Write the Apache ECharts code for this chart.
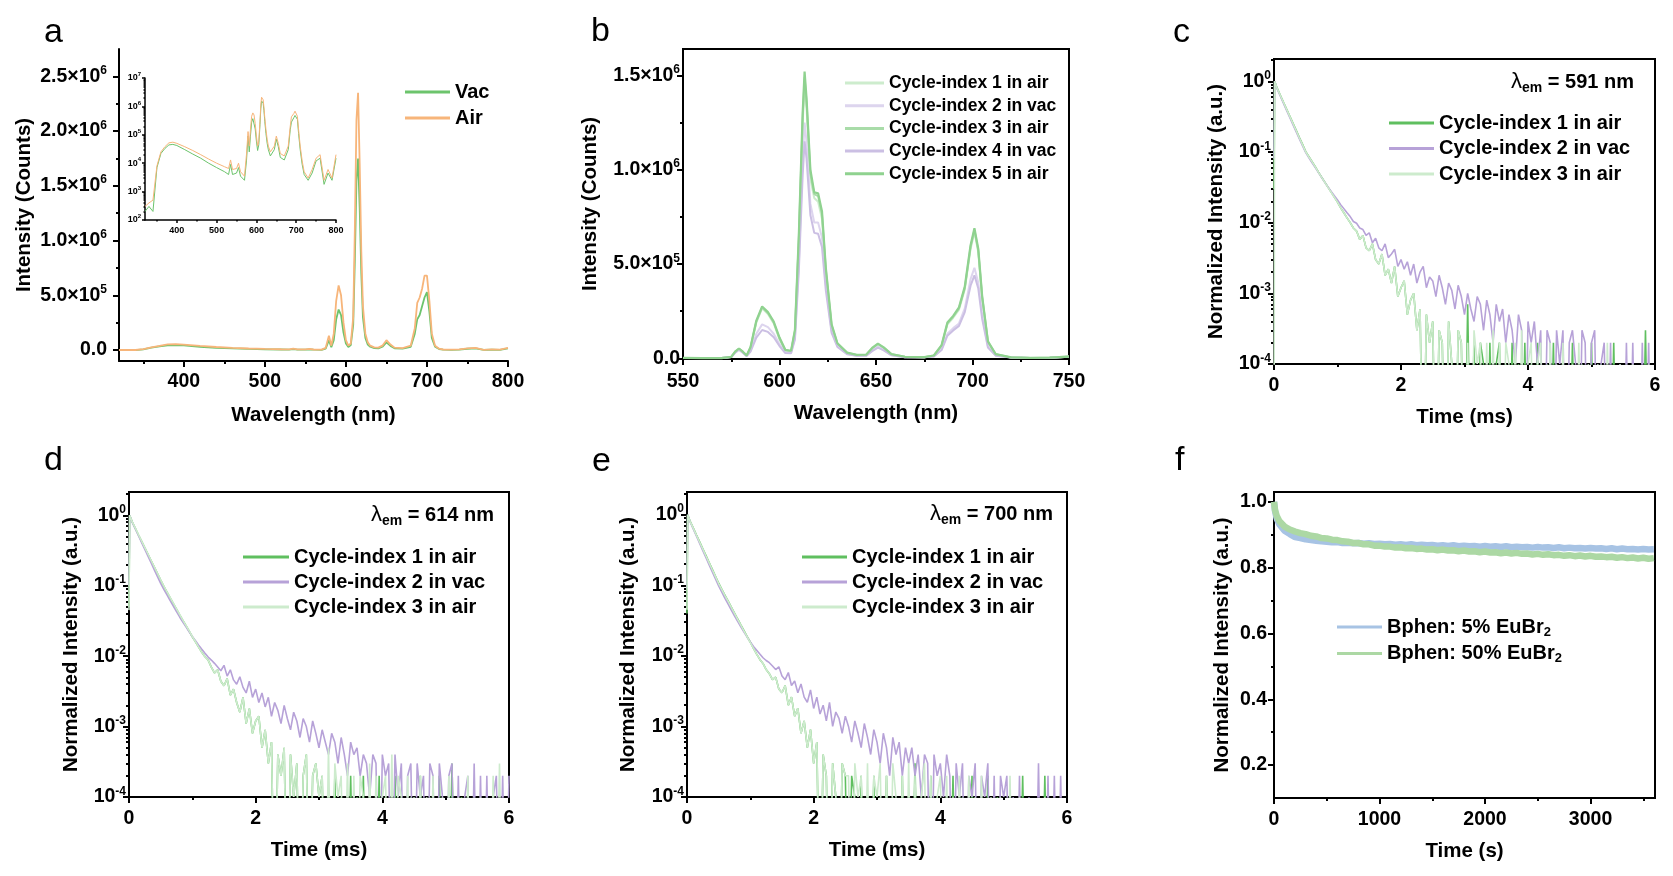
<!DOCTYPE html>
<html>
<head>
<meta charset="utf-8">
<script src="https://cdn.jsdelivr.net/npm/echarts@6/dist/echarts.min.js"></script>
<style>
  html, body { margin: 0; padding: 0; background: #fff; }
  #main { width: 1673px; height: 876px; }
</style>
</head>
<body>
<div id="main"></div>
<script>
const FONT = 'Liberation Sans';

// ---------- panel a: PL spectra, vacuum vs air (counts)
const waveA = [320, 330, 340, 350, 360, 370, 380, 390, 400, 420, 440, 460, 480, 500, 520, 530, 535, 540, 550, 555,
  560, 570, 575, 579, 582, 585, 588, 591, 594, 597, 600, 603, 606, 609, 611, 613, 615, 617, 619, 621,
  624, 627, 630, 635, 640, 645, 650, 655, 660, 670, 680, 685, 688, 691, 694, 697, 700, 703, 706, 710,
  715, 720, 730, 740, 750, 760, 770, 780, 790, 800];
const vacA = [200, 300, 200, 7000, 22000, 33000, 44000, 46000, 42000, 30000, 21000, 15000, 10000, 7000, 5000, 4000, 9000, 4000, 4500, 7000,
  3500, 2500, 12000, 90000, 25000, 90000, 280000, 370000, 320000, 160000, 60000, 28000, 45000, 230000, 820000, 1550000, 1750000, 1300000, 700000, 300000,
  110000, 50000, 30000, 18000, 16000, 30000, 70000, 38000, 16000, 13000, 30000, 150000, 280000, 320000, 400000, 480000, 530000, 350000, 110000, 30000,
  9000, 4000, 2500, 4500, 12000, 15000, 1800, 4500, 2500, 15000];
const airA = [300, 400, 500, 8000, 25000, 38000, 52000, 55000, 50000, 38000, 28000, 20000, 14000, 10000, 7500, 6500, 13000, 6000, 6500, 10000,
  5000, 3500, 20000, 130000, 40000, 150000, 450000, 590000, 500000, 250000, 90000, 40000, 60000, 300000, 1100000, 2100000, 2350000, 1700000, 900000, 400000,
  150000, 70000, 40000, 25000, 22000, 40000, 90000, 50000, 22000, 18000, 40000, 200000, 430000, 480000, 560000, 680000, 680000, 450000, 150000, 40000,
  12000, 5000, 3000, 6000, 15000, 20000, 2500, 6000, 3000, 20000];

// ---------- panel b: five cycles (counts)
const waveB = [550, 560, 570, 575, 577, 579, 581, 583, 585, 588, 591, 594, 597, 600, 603, 606, 608, 610, 612, 613,
  614, 616, 618, 620, 622, 624, 627, 630, 635, 640, 645, 648, 651, 654, 658, 665, 675, 680, 684, 687,
  690, 693, 696, 699, 701, 703, 705, 708, 712, 720, 730, 740, 750];
const cycB1 = [1500, 1000, 1000, 7000, 32000, 50000, 33000, 14000, 55000, 190000, 265000, 235000, 185000, 100000, 42000, 37000, 140000, 610000, 1240000, 1460000,
  1330000, 950000, 850000, 830000, 740000, 455000, 170000, 76000, 28000, 16000, 18000, 51000, 74000, 54000, 20000, 7000, 5000, 14000, 65000, 180000,
  215000, 258000, 365000, 580000, 670000, 560000, 320000, 86000, 20000, 4000, 2000, 3000, 8000];
const cycB2 = [1500, 1000, 1000, 7000, 30000, 46000, 30000, 12000, 40000, 130000, 180000, 165000, 130000, 75000, 32000, 30000, 110000, 500000, 1050000, 1250000,
  1150000, 820000, 720000, 720000, 640000, 390000, 145000, 65000, 24000, 14000, 15000, 42000, 62000, 46000, 17000, 6000, 5000, 11000, 48000, 130000,
  160000, 185000, 265000, 420000, 480000, 400000, 230000, 62000, 15000, 4000, 2000, 3000, 8000];
const cycB3 = [2000, 1000, 1000, 8000, 34000, 51000, 34000, 15000, 58000, 195000, 270000, 240000, 190000, 105000, 43000, 38000, 145000, 630000, 1270000, 1490000,
  1360000, 980000, 870000, 860000, 765000, 470000, 175000, 78000, 29000, 17000, 19000, 53000, 76000, 56000, 21000, 8000, 6000, 15000, 68000, 185000,
  220000, 265000, 372000, 590000, 680000, 570000, 325000, 88000, 21000, 5000, 2000, 4000, 9000];
const cycB4 = [1500, 1000, 1000, 7000, 29000, 45000, 29000, 11000, 36000, 110000, 150000, 140000, 112000, 65000, 28000, 27000, 100000, 460000, 970000, 1150000,
  1060000, 760000, 665000, 660000, 590000, 360000, 135000, 60000, 22000, 13000, 14000, 38000, 57000, 42000, 16000, 6000, 5000, 10000, 44000, 120000,
  148000, 172000, 245000, 385000, 440000, 370000, 210000, 57000, 14000, 4000, 2000, 3000, 8000];
const cycB5 = [2000, 1000, 1000, 8000, 35000, 52000, 35000, 15000, 60000, 200000, 275000, 245000, 195000, 110000, 45000, 40000, 150000, 650000, 1300000, 1520000,
  1380000, 1000000, 880000, 875000, 780000, 480000, 180000, 80000, 30000, 18000, 20000, 55000, 78000, 58000, 22000, 8000, 6000, 15000, 70000, 190000,
  225000, 270000, 380000, 600000, 690000, 580000, 330000, 90000, 22000, 5000, 2000, 4000, 9000];

// ---------- panels c, d, e: decay curves, photon counts (10000 = peak)
// entry 0 = before the rise (t=0), entry 1 = peak, then every 0.05 ms up to 6 ms
const decayT = [0, 0.01];
for (let k = 1; k <= 120; k++) decayT.push(Math.round(k * 5) / 100);

const c591 = [
  [300, 10000,
   8000, 6350, 5050, 4020, 3200, 2540, 2020, 1600, 1280, 1010,
   860, 730, 620, 520, 440, 375, 318, 270, 230, 196,
   162, 138, 117, 100, 84, 76, 58, 66, 44, 40,
   50, 30, 26, 36, 18, 22, 14, 24, 9, 12,
   15, 5, 8, 10, 3, 6, 0, 5, 2, 4,
   0, 3, 2, 0, 4, 1, 0, 3, 2, 0,
   7, 0, 2, 0, 2, 1, 0, 2, 0, 1,
   2, 0, 1, 0, 2, 0, 1, 0, 2, 0,
   1, 0, 2, 0, 0, 1, 0, 2, 0, 0,
   1, 0, 0, 2, 0, 0, 1, 0, 0, 2,
   0, 0, 1, 0, 0, 0, 2, 0, 0, 0,
   1, 0, 0, 0, 0, 0, 3, 0, 0, 0],
  [800, 10000,
   7800, 6150, 4850, 3850, 3050, 2420, 1930, 1530, 1220, 980,
   830, 705, 600, 510, 435, 372, 320, 276, 240, 210,
   180, 158, 138, 122, 104, 98, 84, 80, 66, 72,
   52, 60, 44, 40, 50, 32, 36, 42, 24, 30,
   22, 28, 18, 26, 14, 20, 24, 12, 17, 15,
   9, 18, 12, 7, 14, 11, 6, 13, 9, 5,
   10, 6, 4, 9, 7, 3, 8, 5, 2, 7,
   4, 6, 2, 5, 3, 1, 5, 3, 0, 4,
   2, 4, 1, 3, 0, 3, 2, 0, 3, 1,
   3, 0, 2, 3, 1, 0, 3, 2, 0, 2,
   3, 0, 1, 2, 0, 2, 0, 0, 1, 0,
   2, 0, 2, 0, 0, 2, 0, 2, 0, 0],
  [0, 10000,
   7940, 6310, 5010, 3980, 3160, 2510, 2000, 1580, 1260, 1000,
   850, 724, 616, 515, 437, 372, 316, 269, 229, 195,
   162, 138, 117, 100, 84, 76, 58, 66, 44, 40,
   50, 30, 26, 36, 18, 22, 14, 24, 9, 12,
   15, 5, 8, 10, 3, 6, 0, 5, 2, 4,
   0, 3, 2, 0, 4, 1, 0, 3, 2, 0,
   2, 0, 3, 1, 2, 0, 2, 0, 3, 0,
   2, 0, 2, 1, 0, 2, 0, 3, 0, 1,
   2, 0, 1, 2, 0, 0, 2, 0, 1, 0,
   2, 0, 0, 1, 0, 2, 0, 0, 1, 0,
   0, 1, 0, 0, 2, 0, 0, 0, 1, 0,
   0, 0, 1, 0, 0, 0, 0, 1, 0, 0]
];
const d614 = [
  [500, 10000,
   8050, 6500, 5250, 4250, 3440, 2790, 2260, 1830, 1480, 1200,
   980, 810, 670, 558, 465, 386, 322, 270, 226, 188,
   160, 134, 113, 98, 88, 70, 58, 64, 44, 38,
   48, 28, 34, 22, 16, 26, 11, 18, 8, 12,
   14, 5, 9, 3, 6, 0, 4, 2, 5, 0,
   4, 1, 3, 0, 2, 4, 0, 2, 3, 1,
   2, 0, 1, 0, 2, 0, 1, 0, 0, 2,
   0, 1, 0, 2, 0, 1, 0, 0, 2, 0,
   1, 0, 0, 2, 0, 1, 0, 0, 1, 0,
   0, 2, 0, 0, 1, 0, 0, 2, 0, 0,
   0, 3, 0, 0, 1, 0, 0, 0, 1, 0,
   0, 0, 1, 0, 0, 0, 0, 0, 0, 0],
  [1000, 10000,
   8000, 6400, 5120, 4100, 3280, 2620, 2100, 1680, 1340, 1080,
   890, 740, 615, 515, 430, 360, 305, 260, 222, 190,
   165, 143, 125, 110, 97, 88, 79, 70, 62, 74,
   52, 64, 46, 40, 51, 36, 30, 44, 26, 34,
   22, 30, 19, 26, 14, 22, 17, 11, 20, 13,
   9, 16, 12, 7, 13, 10, 6, 12, 8, 5,
   9, 6, 4, 8, 6, 3, 7, 4, 2, 6,
   4, 5, 2, 4, 3, 1, 4, 3, 0, 4,
   2, 3, 0, 4, 1, 3, 0, 2, 3, 0,
   3, 1, 2, 0, 3, 2, 0, 3, 1, 0,
   2, 3, 0, 2, 0, 1, 2, 0, 3, 0,
   2, 0, 2, 0, 1, 2, 0, 2, 0, 2],
  [450, 10000,
   8100, 6550, 5300, 4300, 3480, 2820, 2280, 1850, 1500, 1210,
   990, 820, 680, 565, 470, 390, 325, 272, 228, 190,
   160, 134, 113, 98, 88, 70, 58, 64, 44, 38,
   48, 28, 34, 22, 16, 26, 11, 18, 8, 12,
   14, 5, 9, 3, 6, 0, 4, 2, 5, 0,
   4, 1, 3, 0, 2, 4, 0, 2, 3, 1,
   2, 0, 5, 0, 3, 1, 2, 0, 3, 0,
   2, 0, 2, 1, 0, 3, 0, 2, 0, 1,
   2, 0, 4, 0, 2, 1, 0, 2, 0, 1,
   0, 2, 0, 1, 0, 2, 0, 0, 1, 0,
   2, 0, 0, 1, 0, 0, 2, 0, 0, 0,
   1, 0, 0, 0, 2, 0, 3, 0, 0, 0]
];
const e700 = [
  [400, 10000,
   8050, 6450, 5150, 4120, 3300, 2630, 2100, 1680, 1340, 1070,
   875, 720, 595, 490, 404, 333, 275, 228, 188, 156,
   128, 106, 89, 78, 64, 56, 46, 50, 34, 30,
   38, 20, 26, 14, 18, 8, 12, 5, 9, 3,
   6, 0, 4, 2, 0, 3, 1, 0, 3, 2,
   0, 2, 1, 0, 2, 0, 1, 0, 2, 0,
   1, 0, 2, 0, 1, 0, 0, 2, 0, 1,
   0, 3, 0, 1, 0, 0, 2, 0, 1, 0,
   0, 1, 0, 2, 0, 0, 1, 0, 0, 2,
   0, 0, 1, 0, 2, 0, 0, 1, 0, 0,
   0, 1, 0, 0, 0, 2, 0, 0, 0, 0,
   0, 0, 2, 0, 0, 0, 0, 0, 0, 0],
  [900, 10000,
   7900, 6250, 4950, 3920, 3100, 2460, 1950, 1550, 1230, 980,
   800, 655, 540, 445, 370, 308, 258, 217, 184, 158,
   136, 120, 106, 94, 86, 80, 72, 64, 70, 52,
   46, 58, 38, 44, 30, 40, 26, 22, 33, 18,
   26, 15, 20, 12, 22, 10, 16, 13, 8, 14,
   10, 6, 12, 8, 5, 11, 7, 4, 9, 6,
   3, 8, 5, 2, 7, 4, 6, 2, 5, 3,
   5, 2, 4, 1, 4, 3, 0, 4, 2, 3,
   1, 4, 2, 0, 3, 1, 3, 0, 2, 1,
   3, 0, 2, 1, 3, 0, 2, 0, 2, 1,
   2, 0, 1, 0, 2, 0, 0, 1, 0, 0,
   3, 0, 0, 2, 0, 2, 0, 2, 0, 0],
  [450, 10000,
   8000, 6400, 5100, 4080, 3260, 2600, 2080, 1660, 1330, 1060,
   870, 715, 590, 485, 400, 330, 272, 225, 186, 154,
   128, 106, 89, 78, 64, 56, 46, 50, 34, 30,
   38, 20, 26, 14, 18, 8, 12, 5, 9, 3,
   6, 0, 4, 2, 0, 3, 1, 0, 3, 2,
   2, 0, 3, 1, 2, 0, 3, 0, 2, 1,
   3, 0, 2, 0, 3, 1, 0, 2, 0, 3,
   0, 2, 0, 1, 3, 0, 2, 0, 1, 2,
   0, 2, 0, 1, 0, 2, 0, 0, 2, 0,
   1, 0, 2, 0, 0, 1, 0, 0, 1, 0,
   0, 2, 0, 0, 1, 0, 0, 0, 0, 0,
   0, 0, 1, 0, 0, 0, 0, 0, 0, 0]
];
const cycleNames = ['Cycle-index 1 in air', 'Cycle-index 2 in vac', 'Cycle-index 3 in air'];

// ---------- panel f: stability over one hour
const timeF = [0, 10, 25];
for (let s = 50; s <= 3600; s += 50) timeF.push(s);
const eu5 = [1.000, 0.972, 0.950,
  0.932, 0.912, 0.902, 0.893, 0.890, 0.886, 0.884, 0.882, 0.880, 0.879,
  0.877, 0.878, 0.875, 0.876, 0.874, 0.875, 0.873, 0.874, 0.872, 0.873,
  0.871, 0.872, 0.870, 0.871, 0.869, 0.871, 0.868, 0.870, 0.868, 0.869,
  0.867, 0.868, 0.866, 0.868, 0.865, 0.867, 0.865, 0.866, 0.864, 0.866,
  0.864, 0.865, 0.863, 0.865, 0.862, 0.864, 0.862, 0.863, 0.861, 0.863,
  0.861, 0.862, 0.860, 0.862, 0.859, 0.861, 0.859, 0.860, 0.858, 0.860,
  0.858, 0.859, 0.857, 0.859, 0.856, 0.858, 0.856, 0.857, 0.855, 0.857, 0.855, 0.856];
const eu50 = [1.000, 0.975, 0.958,
  0.942, 0.925, 0.916, 0.910, 0.905, 0.902, 0.897, 0.895, 0.890, 0.889,
  0.885, 0.884, 0.880, 0.879, 0.875, 0.875, 0.871, 0.871, 0.867, 0.867,
  0.864, 0.864, 0.861, 0.862, 0.859, 0.860, 0.857, 0.858, 0.855, 0.856,
  0.853, 0.855, 0.852, 0.853, 0.850, 0.852, 0.849, 0.850, 0.847, 0.849,
  0.846, 0.847, 0.844, 0.846, 0.843, 0.845, 0.842, 0.843, 0.840, 0.842,
  0.839, 0.841, 0.838, 0.839, 0.836, 0.838, 0.835, 0.837, 0.834, 0.836,
  0.833, 0.834, 0.832, 0.833, 0.830, 0.832, 0.829, 0.831, 0.828, 0.830, 0.827, 0.829];

// ---------- tick values
const waveTicksA = [400, 500, 600, 700, 800], waveMinorA = [350, 450, 550, 650, 750];
const countTicksA = [0, 5e5, 1e6, 1.5e6, 2e6, 2.5e6], countMinorA = [2.5e5, 7.5e5, 1.25e6, 1.75e6, 2.25e6];
const insetLogTicks = [1e2, 1e3, 1e4, 1e5, 1e6, 1e7];
const waveTicksB = [550, 600, 650, 700, 750], waveMinorB = [575, 625, 675, 725];
const countTicksB = [0, 5e5, 1e6, 1.5e6], countMinorB = [2.5e5, 7.5e5, 1.25e6];
const timeTicks = [0, 2, 4, 6], timeMinor = [1, 3, 5];
const decayLogTicks = [1e-4, 1e-3, 1e-2, 1e-1, 1];
const secTicks = [0, 1000, 2000, 3000], secMinor = [500, 1500, 2500, 3500];
const normTicks = [0.2, 0.4, 0.6, 0.8, 1.0], normMinor = [0.3, 0.5, 0.7, 0.9];

function logMinors(lo, hi) {
  const out = [];
  for (let e = lo; e < hi; e++) for (let m = 2; m <= 9; m++) out.push(+(m * Math.pow(10, e)).toPrecision(3));
  return out;
}

// ---------- formatting helpers
function rich(size) {
  const ss = Math.round(size * 0.62);
  return {
    n: { fontFamily: FONT, fontWeight: 'bold', fontSize: size, lineHeight: size + 4, verticalAlign: 'middle', color: '#000' },
    s: { fontFamily: FONT, fontWeight: 'bold', fontSize: ss, lineHeight: ss, verticalAlign: 'top', color: '#000' }
  };
}
const sciFmt = v => {
  if (v === 0) return '{n|0.0}';
  const e = Math.floor(Math.log10(v) + 1e-9);
  return '{n|' + (v / Math.pow(10, e)).toFixed(1) + '×10}{s|' + e + '}';
};
const logFmt = v => '{n|10}{s|' + Math.round(Math.log10(v)) + '}';
const plainFmt = v => '{n|' + v + '}';
const oneDec = v => '{n|' + v.toFixed(1) + '}';

const xAxes = [], yAxes = [];
function axes(list, o) {
  const isX = list === xAxes;
  const lw = o.lineW || 2;
  const size = o.size || 19.5;
  const base = {
    type: o.type || 'value', gridIndex: o.grid, min: o.min, max: o.max,
    position: isX ? 'bottom' : 'left', offset: 0
  };
  if (o.type === 'log') base.logBase = 10;
  const main = Object.assign({}, base, {
    name: o.name || '', nameLocation: 'middle', nameGap: o.nameGap || 0, nameRotate: isX ? 0 : 90,
    nameTextStyle: { fontFamily: FONT, fontWeight: 'bold', fontSize: 20.5, color: '#000' },
    axisLine: { show: true, onZero: false, lineStyle: { color: '#000', width: lw } },
    axisTick: { show: true, inside: false, length: o.tickLen || 6, customValues: o.ticks, lineStyle: { color: '#000', width: lw } },
    axisLabel: { show: true, customValues: o.ticks, margin: o.margin, formatter: o.fmt, rich: rich(size),
      fontFamily: FONT, fontWeight: 'bold', fontSize: size, color: '#000' },
    splitLine: { show: false }
  });
  const minor = Object.assign({}, base, {
    axisLine: { show: false, onZero: false },
    axisTick: { show: true, inside: false, length: (o.tickLen || 6) / 2, customValues: o.minor, lineStyle: { color: '#000', width: lw } },
    axisLabel: { show: false }, splitLine: { show: false }
  });
  const idx = list.length;
  list.push(main, minor);
  return idx;
}

function line(name, xi, yi, data, color, width) {
  return { type: 'line', name, xAxisIndex: xi, yAxisIndex: yi, data, symbol: 'none', showSymbol: false,
    lineStyle: { color, width }, itemStyle: { color }, clip: true, silent: true, animation: false };
}
const zip = (xs, ys) => xs.map((x, i) => [x, ys[i]]);
const decayData = counts => decayT.map((t, i) => [t, counts[i] > 0 ? counts[i] / 10000 : 1e-6]); // zero counts sit below the 1e-4 floor

// ---------- grids
const boxed = { show: true, borderColor: '#000', borderWidth: 2, backgroundColor: 'transparent', outerBoundsMode: 'none' };
const grids = [
  { left: 119, top: 49, width: 389, height: 312, show: false, outerBoundsMode: 'none' },  // a
  { left: 145, top: 78, width: 191, height: 142, show: false, outerBoundsMode: 'none' },  // a inset
  Object.assign({ left: 683, top: 49, width: 386, height: 310 }, boxed),                 // b
  Object.assign({ left: 1274, top: 59, width: 381, height: 305 }, boxed),                // c
  Object.assign({ left: 129, top: 492, width: 380, height: 305 }, boxed),                // d
  Object.assign({ left: 687, top: 492, width: 380, height: 305 }, boxed),                // e
  Object.assign({ left: 1274, top: 492, width: 381, height: 306 }, boxed)                // f
];

// ---------- axes
const axA = axes(xAxes, { grid: 0, min: 320, max: 800, ticks: waveTicksA, minor: waveMinorA, fmt: plainFmt, margin: 9, name: 'Wavelength (nm)', nameGap: 44 });
const ayA = axes(yAxes, { grid: 0, min: -1e5, max: 2.75e6, ticks: countTicksA, minor: countMinorA, fmt: sciFmt, margin: 12, name: 'Intensity (Counts)', nameGap: 84 });
const axI = axes(xAxes, { grid: 1, min: 320, max: 800, ticks: waveTicksA, minor: waveMinorA, fmt: plainFmt, margin: 4, size: 9, tickLen: 3, lineW: 1.5 });
const ayI = axes(yAxes, { grid: 1, type: 'log', min: 1e2, max: 1e7, ticks: insetLogTicks, minor: logMinors(2, 7), fmt: logFmt, margin: 4, size: 9, tickLen: 3, lineW: 1.5 });
const axB = axes(xAxes, { grid: 2, min: 550, max: 750, ticks: waveTicksB, minor: waveMinorB, fmt: plainFmt, margin: 11, name: 'Wavelength (nm)', nameGap: 44 });
const ayB = axes(yAxes, { grid: 2, min: -3700, max: 1.64e6, ticks: countTicksB, minor: countMinorB, fmt: sciFmt, margin: 3, name: 'Intensity (Counts)', nameGap: 82 });
const decayPanels = [
  { grid: 3, max: 2.07, gap: 47, data: c591, key: 'c' },
  { grid: 4, max: 2.14, gap: 47, data: d614, key: 'd' },
  { grid: 5, max: 2.1, gap: 48, data: e700, key: 'e' }
];
decayPanels.forEach(p => {
  p.x = axes(xAxes, { grid: p.grid, min: 0, max: 6, ticks: timeTicks, minor: timeMinor, fmt: plainFmt, margin: 10, name: 'Time (ms)', nameGap: 43 });
  p.y = axes(yAxes, { grid: p.grid, type: 'log', min: 1e-4, max: p.max, ticks: decayLogTicks, minor: logMinors(-4, 0).concat([2]), fmt: logFmt, margin: 3, name: 'Normalized Intensity (a.u.)', nameGap: p.gap });
});
const axF = axes(xAxes, { grid: 6, min: 0, max: 3611, ticks: secTicks, minor: secMinor, fmt: plainFmt, margin: 10, name: 'Time (s)', nameGap: 43 });
const ayF = axes(yAxes, { grid: 6, min: 0.1, max: 1.03, ticks: normTicks, minor: normMinor, fmt: oneDec, margin: 7, name: 'Normalized Intensity (a.u.)', nameGap: 41 });

// ---------- series
const series = [
  line('a::Vac', axA, ayA, zip(waveA, vacA), '#6cc46c', 1.8),
  line('a::Air', axA, ayA, zip(waveA, airA), '#f7b57a', 1.8),
  line('ai::Vac', axI, ayI, zip(waveA, vacA), '#6cc46c', 1),
  line('ai::Air', axI, ayI, zip(waveA, airA), '#f7b57a', 1),
  line('b::Cycle-index 1 in air', axB, ayB, zip(waveB, cycB1), '#cdeccd', 2),
  line('b::Cycle-index 2 in vac', axB, ayB, zip(waveB, cycB2), '#ddd5ee', 2),
  line('b::Cycle-index 3 in air', axB, ayB, zip(waveB, cycB3), '#a9dca9', 2),
  line('b::Cycle-index 4 in vac', axB, ayB, zip(waveB, cycB4), '#cbbfe3', 2),
  line('b::Cycle-index 5 in air', axB, ayB, zip(waveB, cycB5), '#8fd28f', 2.2)
];
const decayColors = ['#5fbf5f', '#b7a2d8', '#cdebcd'];
decayPanels.forEach(p => {
  p.data.forEach((counts, i) => {
    series.push(line(p.key + '::' + cycleNames[i], p.x, p.y, decayData(counts), decayColors[i], 1.6));
  });
});
series.push(line('f::Bphen: 5% EuBr2', axF, ayF, zip(timeF, eu5), '#a7c3e4', 6.5));
series.push(line('f::Bphen: 50% EuBr2', axF, ayF, zip(timeF, eu50), '#acd8a4', 6.5));

// ---------- legends (a flat bar as the key, like the original)
function legend(names, left, top, size, gap, iw, extra) {
  return Object.assign({
    data: names, orient: 'vertical', left, top, padding: 0, itemGap: gap, itemWidth: iw, itemHeight: 3,
    icon: 'rect', selectedMode: false,
    textStyle: { fontFamily: FONT, fontWeight: 'bold', fontSize: size, color: '#000' },
    formatter: n => n.split('::')[1]
  }, extra || {});
}
const legends = [
  legend(['a::Vac', 'a::Air'], 405, 82, 20, 6, 45),
  legend(['b::Cycle-index 1 in air', 'b::Cycle-index 2 in vac', 'b::Cycle-index 3 in air', 'b::Cycle-index 4 in vac', 'b::Cycle-index 5 in air'], 845, 74, 17.5, 4.7, 39),
  legend(cycleNames.map(n => 'c::' + n), 1389, 113, 20, 5.5, 45),
  legend(cycleNames.map(n => 'd::' + n), 243, 547, 20, 5, 46),
  legend(cycleNames.map(n => 'e::' + n), 802, 547, 20, 5, 45),
  legend(['f::Bphen: 5% EuBr2', 'f::Bphen: 50% EuBr2'], 1337, 617, 20, 5, 45, {
    formatter: n => '{t|' + n.split('::')[1].replace(/2$/, '') + '}{s|2}',
    textStyle: { fontFamily: FONT, fontWeight: 'bold', fontSize: 20, color: '#000',
      rich: { t: { fontFamily: FONT, fontWeight: 'bold', fontSize: 20, lineHeight: 23, verticalAlign: 'middle' },
              s: { fontFamily: FONT, fontWeight: 'bold', fontSize: 13, lineHeight: 13, verticalAlign: 'bottom' } } }
  })
];

// ---------- panel letters and emission-wavelength notes
const letters = [['a', 44, 33], ['b', 591, 32], ['c', 1173, 33], ['d', 44, 461], ['e', 592, 462], ['f', 1175, 461]];
const lamRich = {
  l: { fontFamily: FONT, fontSize: 22, lineHeight: 26, verticalAlign: 'middle', color: '#000' },
  e: { fontFamily: FONT, fontWeight: 'bold', fontSize: 14, lineHeight: 14, verticalAlign: 'bottom', color: '#000' },
  t: { fontFamily: FONT, fontWeight: 'bold', fontSize: 20, lineHeight: 26, verticalAlign: 'middle', color: '#000' }
};
const lamNotes = [['591', 1511, 82], ['614', 371, 515], ['700', 930, 514]];
const graphic = letters.map(([t, x, y]) => ({
  type: 'text', style: { x, y, text: t, font: '34px "Liberation Sans"', fill: '#000', textVerticalAlign: 'middle' }
})).concat(lamNotes.map(([w, x, y]) => ({
  type: 'text', style: { x, y, text: '{l|λ}{e|em}{t| = ' + w + ' nm}', rich: lamRich, textVerticalAlign: 'middle' }
})));

const chart = echarts.init(document.getElementById('main'));
chart.setOption({
  animation: false,
  backgroundColor: '#fff',
  textStyle: { fontFamily: FONT },
  grid: grids,
  xAxis: xAxes,
  yAxis: yAxes,
  legend: legends,
  series,
  graphic
});
window.addEventListener('resize', chart.resize);
</script>
</body>
</html>
